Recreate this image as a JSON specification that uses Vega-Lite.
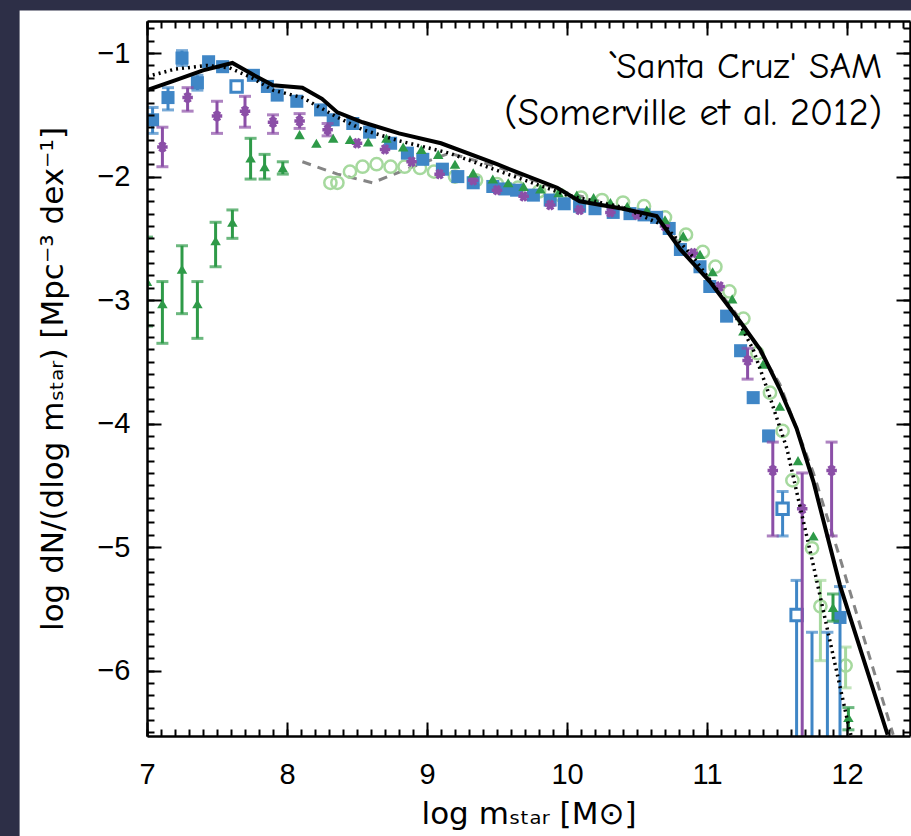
{
  "$schema": "https://vega.github.io/schema/vega-lite/v6.json",
  "width": 763,
  "height": 715,
  "autosize": {"type": "none"},
  "padding": {"left": 147, "top": 21, "right": 1, "bottom": 100},
  "background": "#2d2f47",
  "config": {
    "view": {"stroke": null},
    "axis": {"grid": false, "labelFlush": false, "labelFont": "Liberation Sans", "titleFont": "DejaVu Sans", "labelColor": "black", "titleColor": "black", "domainColor": "black", "tickColor": "black", "titleFontWeight": "normal", "labelOverlap": false}
  },
  "resolve": {"axis": {"x": "independent", "y": "independent"}},
  "datasets": {
    "black": [{"x":7.0,"y":-1.30},{"x":7.2,"y":-1.22},{"x":7.4,"y":-1.14},{"x":7.61,"y":-1.08},{"x":7.75,"y":-1.17},{"x":7.9,"y":-1.26},{"x":8.11,"y":-1.28},{"x":8.25,"y":-1.37},{"x":8.36,"y":-1.48},{"x":8.54,"y":-1.56},{"x":8.8,"y":-1.65},{"x":9.1,"y":-1.73},{"x":9.5,"y":-1.90},{"x":9.93,"y":-2.09},{"x":10.09,"y":-2.20},{"x":10.4,"y":-2.26},{"x":10.64,"y":-2.32},{"x":10.81,"y":-2.59},{"x":11.02,"y":-2.85},{"x":11.24,"y":-3.18},{"x":11.38,"y":-3.40},{"x":11.52,"y":-3.72},{"x":11.64,"y":-4.04},{"x":11.76,"y":-4.47},{"x":11.95,"y":-5.31},{"x":12.29,"y":-6.52}],
    "dotted": [{"x":7.0,"y":-1.19},{"x":7.2,"y":-1.13},{"x":7.43,"y":-1.10},{"x":7.59,"y":-1.12},{"x":7.75,"y":-1.2},{"x":7.9,"y":-1.30},{"x":8.11,"y":-1.36},{"x":8.36,"y":-1.52},{"x":8.54,"y":-1.62},{"x":8.8,"y":-1.71},{"x":9.16,"y":-1.81},{"x":9.5,"y":-1.95},{"x":10.0,"y":-2.15},{"x":10.4,"y":-2.25},{"x":10.7,"y":-2.4},{"x":10.9,"y":-2.65},{"x":11.19,"y":-3.10},{"x":11.33,"y":-3.40},{"x":11.43,"y":-3.72},{"x":11.57,"y":-4.2},{"x":11.76,"y":-5.15},{"x":12.01,"y":-6.44},{"x":12.03,"y":-6.53}],
    "dashed": [{"x":8.11,"y":-1.88},{"x":8.36,"y":-1.98},{"x":8.61,"y":-2.05},{"x":8.9,"y":-1.92},{"x":9.16,"y":-1.81},{"x":9.5,"y":-1.92},{"x":10.0,"y":-2.13},{"x":10.4,"y":-2.25},{"x":10.64,"y":-2.3},{"x":10.81,"y":-2.56},{"x":11.02,"y":-2.83},{"x":11.24,"y":-3.16},{"x":11.52,"y":-3.68},{"x":11.76,"y":-4.40},{"x":11.95,"y":-5.09},{"x":12.14,"y":-5.81},{"x":12.33,"y":-6.52}],
    "blue": [
      {"x":7.04,"y":-1.54,"lo":-1.65,"hi":-1.44,"kind":"filled"},{"x":7.15,"y":-1.36,"lo":-1.46,"hi":-1.28,"kind":"filled"},{"x":7.25,"y":-1.04,"lo":-1.10,"hi":-0.98,"kind":"filled"},{"x":7.36,"y":-1.24,"lo":-1.30,"hi":-1.18,"kind":"filled"},{"x":7.44,"y":-1.07,"kind":"filled"},{"x":7.54,"y":-1.11,"kind":"filled"},{"x":7.64,"y":-1.27,"kind":"open"},{"x":7.76,"y":-1.18,"kind":"filled"},{"x":7.86,"y":-1.27,"kind":"filled"},{"x":7.93,"y":-1.34,"kind":"filled"},{"x":8.07,"y":-1.39,"kind":"filled"},{"x":8.24,"y":-1.46,"kind":"filled"},{"x":8.33,"y":-1.54,"kind":"filled"},{"x":8.47,"y":-1.57,"kind":"filled"},{"x":8.59,"y":-1.64,"kind":"filled"},{"x":8.74,"y":-1.73,"kind":"filled"},{"x":8.86,"y":-1.81,"kind":"filled"},{"x":8.97,"y":-1.86,"kind":"filled"},{"x":9.11,"y":-1.94,"kind":"filled"},{"x":9.22,"y":-2.0,"kind":"filled"},{"x":9.33,"y":-2.05,"kind":"filled"},{"x":9.47,"y":-2.08,"kind":"filled"},{"x":9.56,"y":-2.10,"kind":"filled"},{"x":9.64,"y":-2.11,"kind":"filled"},{"x":9.76,"y":-2.15,"kind":"filled"},{"x":9.88,"y":-2.19,"kind":"filled"},{"x":9.98,"y":-2.22,"kind":"filled"},{"x":10.09,"y":-2.24,"kind":"filled"},{"x":10.2,"y":-2.26,"kind":"filled"},{"x":10.33,"y":-2.29,"kind":"filled"},{"x":10.45,"y":-2.30,"kind":"filled"},{"x":10.55,"y":-2.31,"kind":"filled"},{"x":10.64,"y":-2.33,"kind":"filled"},{"x":10.73,"y":-2.42,"kind":"filled"},{"x":10.81,"y":-2.59,"kind":"filled"},{"x":10.95,"y":-2.73,"kind":"filled"},{"x":11.02,"y":-2.89,"kind":"filled"},{"x":11.14,"y":-3.13,"kind":"filled"},{"x":11.24,"y":-3.41,"kind":"filled"},{"x":11.33,"y":-3.79,"kind":"filled"},{"x":11.44,"y":-4.10,"kind":"filled"},{"x":11.54,"y":-4.69,"lo":-4.91,"hi":-4.55,"kind":"open"},{"x":11.64,"y":-5.55,"lo":-6.8,"hi":-5.27,"kind":"open"},{"x":11.75,"y":-6.9,"lo":-6.9,"hi":-5.69,"kind":"open"},{"x":11.86,"y":-6.9,"lo":-6.9,"hi":-5.69,"kind":"open"},{"x":11.95,"y":-5.57,"lo":-6.8,"hi":-5.32,"kind":"filled"}
    ],
    "purple": [
      {"x":7.11,"y":-1.76,"lo":-1.92,"hi":-1.60},{"x":7.29,"y":-1.36,"lo":-1.47,"hi":-1.28},{"x":7.50,"y":-1.51,"lo":-1.65,"hi":-1.39},{"x":7.70,"y":-1.47,"lo":-1.60,"hi":-1.35},{"x":7.90,"y":-1.56,"lo":-1.65,"hi":-1.50},{"x":8.09,"y":-1.55,"lo":-1.61,"hi":-1.49},{"x":8.29,"y":-1.62,"lo":-1.67,"hi":-1.57},{"x":8.50,"y":-1.73},{"x":8.70,"y":-1.78},{"x":8.89,"y":-1.88},{"x":9.09,"y":-1.98},{"x":9.33,"y":-2.03},{"x":9.5,"y":-2.11},{"x":9.69,"y":-2.16},{"x":9.88,"y":-2.23},{"x":10.09,"y":-2.27},{"x":10.31,"y":-2.29},{"x":10.5,"y":-2.31},{"x":10.7,"y":-2.40},{"x":10.9,"y":-2.62},{"x":11.09,"y":-2.89},{"x":11.29,"y":-3.49,"lo":-3.64,"hi":-3.39},{"x":11.47,"y":-4.38,"lo":-4.91,"hi":-4.15},{"x":11.68,"y":-4.69,"lo":-6.8,"hi":-4.40},{"x":11.89,"y":-4.38,"lo":-4.91,"hi":-4.15}
    ],
    "dgreen": [
      {"x":7.0,"y":-2.85,"lo":-3.21,"hi":-2.49},{"x":7.11,"y":-3.03,"lo":-3.35,"hi":-2.85},{"x":7.25,"y":-2.75,"lo":-3.11,"hi":-2.56},{"x":7.36,"y":-3.03,"lo":-3.31,"hi":-2.85},{"x":7.49,"y":-2.52,"lo":-2.73,"hi":-2.37},{"x":7.61,"y":-2.37,"lo":-2.50,"hi":-2.27},{"x":7.74,"y":-1.85,"lo":-2.02,"hi":-1.69},{"x":7.84,"y":-1.92,"lo":-2.02,"hi":-1.82},{"x":7.97,"y":-1.93,"lo":-1.98,"hi":-1.88},{"x":8.09,"y":-1.66},{"x":8.21,"y":-1.73},{"x":8.33,"y":-1.69},{"x":8.45,"y":-1.70},{"x":8.58,"y":-1.72},{"x":8.71,"y":-1.69},{"x":8.83,"y":-1.76},{"x":8.96,"y":-1.78},{"x":9.08,"y":-1.82},{"x":9.2,"y":-1.9},{"x":9.33,"y":-1.97},{"x":9.47,"y":-2.02},{"x":9.58,"y":-2.05},{"x":9.69,"y":-2.08},{"x":9.81,"y":-2.10},{"x":9.94,"y":-2.13},{"x":10.07,"y":-2.15},{"x":10.19,"y":-2.17},{"x":10.31,"y":-2.21},{"x":10.43,"y":-2.24},{"x":10.57,"y":-2.27},{"x":10.7,"y":-2.35},{"x":10.83,"y":-2.48},{"x":10.95,"y":-2.63},{"x":11.04,"y":-2.77},{"x":11.18,"y":-2.99},{"x":11.26,"y":-3.25},{"x":11.4,"y":-3.52},{"x":11.52,"y":-3.86},{"x":11.65,"y":-4.30},{"x":11.76,"y":-4.91},{"x":11.90,"y":-5.49,"lo":-5.60,"hi":-5.38},{"x":12.01,"y":-6.38,"lo":-6.48,"hi":-6.30}
    ],
    "lgreen": [
      {"x":8.31,"y":-2.05},{"x":8.36,"y":-2.05},{"x":8.45,"y":-1.96},{"x":8.54,"y":-1.92},{"x":8.64,"y":-1.90},{"x":8.74,"y":-1.92},{"x":8.84,"y":-1.92},{"x":8.95,"y":-1.93},{"x":9.05,"y":-1.96},{"x":9.2,"y":-2.0},{"x":9.35,"y":-2.03},{"x":9.5,"y":-2.06},{"x":9.65,"y":-2.09},{"x":9.8,"y":-2.12},{"x":9.95,"y":-2.15},{"x":10.1,"y":-2.17},{"x":10.25,"y":-2.19},{"x":10.4,"y":-2.21},{"x":10.55,"y":-2.24},{"x":10.7,"y":-2.33},{"x":10.85,"y":-2.47},{"x":10.97,"y":-2.61},{"x":11.06,"y":-2.73},{"x":11.16,"y":-2.93},{"x":11.26,"y":-3.15},{"x":11.36,"y":-3.43},{"x":11.45,"y":-3.75},{"x":11.54,"y":-4.06},{"x":11.61,"y":-4.46},{"x":11.75,"y":-5.01},{"x":11.81,"y":-5.48,"lo":-5.92,"hi":-5.27},{"x":11.99,"y":-5.96,"lo":-6.14,"hi":-5.81}
    ]
  },
  "layer": [
    {
      "data": {"values": [{}]},
      "mark": {"type": "rect", "color": "white"},
      "encoding": {
        "x": {"datum": 6.09, "type": "quantitative", "scale": {"domain": [7, 12.45], "nice": false, "zero": false}, "axis": {"orient": "top", "zindex": 2, "labels": false, "ticks": false, "domain": true, "domainWidth": 2.5, "title": null}},
        "x2": {"datum": 12.8},
        "y": {"datum": -0.655, "type": "quantitative", "scale": {"domain": [-6.53, -0.74], "nice": false, "zero": false}, "axis": {"orient": "right", "zindex": 2, "labels": false, "ticks": false, "domain": true, "domainWidth": 2.5, "title": null}},
        "y2": {"datum": -7.6}
      }
    },
    {
      "data": {"name": "dashed"},
      "mark": {"type": "line", "color": "#858585", "strokeWidth": 3, "strokeDash": [9, 7], "clip": true},
      "encoding": {
        "x": {"field": "x", "type": "quantitative", "scale": {"domain": [7, 12.45], "nice": false, "zero": false}, "axis": {"orient": "bottom", "zindex": 2, "labels": false, "domain": false, "title": null, "tickCount": 55, "tickSize": 7, "offset": -7, "tickWidth": 2}},
        "y": {"field": "y", "type": "quantitative", "scale": {"domain": [-6.53, -0.74], "nice": false, "zero": false}, "axis": {"orient": "left", "zindex": 2, "labels": false, "domain": false, "title": null, "tickCount": 58, "tickSize": 7, "offset": -7, "tickWidth": 2}}
      }
    },
    {
      "data": {"name": "lgreen"},
      "transform": [{"filter": "datum.hi != null"}],
      "mark": {"type": "rule", "color": "#a6d99e", "strokeWidth": 3, "clip": true},
      "encoding": {
        "x": {"field": "x", "type": "quantitative", "scale": {"domain": [7, 12.45], "nice": false, "zero": false}, "axis": null},
        "y": {"field": "lo", "type": "quantitative", "scale": {"domain": [-6.53, -0.74], "nice": false, "zero": false}, "axis": null},
        "y2": {"field": "hi"}
      }
    },
    {
      "data": {"name": "lgreen"},
      "transform": [{"filter": "datum.hi != null"}],
      "mark": {"type": "tick", "orient": "horizontal", "color": "#a6d99e", "size": 12, "thickness": 3, "clip": true},
      "encoding": {
        "x": {"field": "x", "type": "quantitative", "scale": {"domain": [7, 12.45], "nice": false, "zero": false}, "axis": null},
        "y": {"field": "lo", "type": "quantitative", "scale": {"domain": [-6.53, -0.74], "nice": false, "zero": false}, "axis": null}
      }
    },
    {
      "data": {"name": "lgreen"},
      "transform": [{"filter": "datum.hi != null"}],
      "mark": {"type": "tick", "orient": "horizontal", "color": "#a6d99e", "size": 12, "thickness": 3, "clip": true},
      "encoding": {
        "x": {"field": "x", "type": "quantitative", "scale": {"domain": [7, 12.45], "nice": false, "zero": false}, "axis": null},
        "y": {"field": "hi", "type": "quantitative", "scale": {"domain": [-6.53, -0.74], "nice": false, "zero": false}, "axis": null}
      }
    },
    {
      "data": {"name": "lgreen"},
      "mark": {"type": "point", "shape": "circle", "filled": false, "color": "#a6d99e", "strokeWidth": 2.5, "size": 150, "opacity": 1, "clip": true},
      "encoding": {
        "x": {"field": "x", "type": "quantitative", "scale": {"domain": [7, 12.45], "nice": false, "zero": false}, "axis": null},
        "y": {"field": "y", "type": "quantitative", "scale": {"domain": [-6.53, -0.74], "nice": false, "zero": false}, "axis": null}
      }
    },
    {
      "data": {"name": "blue"},
      "transform": [{"filter": "datum.hi != null"}],
      "mark": {"type": "rule", "color": "#3f86c6", "strokeWidth": 3, "clip": true},
      "encoding": {
        "x": {"field": "x", "type": "quantitative", "scale": {"domain": [7, 12.45], "nice": false, "zero": false}, "axis": null},
        "y": {"field": "lo", "type": "quantitative", "scale": {"domain": [-6.53, -0.74], "nice": false, "zero": false}, "axis": null},
        "y2": {"field": "hi"}
      }
    },
    {
      "data": {"name": "blue"},
      "transform": [{"filter": "datum.hi != null"}],
      "mark": {"type": "tick", "orient": "horizontal", "color": "#3f86c6", "size": 12, "thickness": 3, "clip": true},
      "encoding": {
        "x": {"field": "x", "type": "quantitative", "scale": {"domain": [7, 12.45], "nice": false, "zero": false}, "axis": null},
        "y": {"field": "lo", "type": "quantitative", "scale": {"domain": [-6.53, -0.74], "nice": false, "zero": false}, "axis": null}
      }
    },
    {
      "data": {"name": "blue"},
      "transform": [{"filter": "datum.hi != null"}],
      "mark": {"type": "tick", "orient": "horizontal", "color": "#3f86c6", "size": 12, "thickness": 3, "clip": true},
      "encoding": {
        "x": {"field": "x", "type": "quantitative", "scale": {"domain": [7, 12.45], "nice": false, "zero": false}, "axis": null},
        "y": {"field": "hi", "type": "quantitative", "scale": {"domain": [-6.53, -0.74], "nice": false, "zero": false}, "axis": null}
      }
    },
    {
      "data": {"name": "blue"},
      "transform": [{"filter": "datum.kind == 'filled'"}],
      "mark": {"type": "point", "shape": "square", "filled": true, "color": "#3f86c6", "size": 170, "opacity": 1, "clip": true},
      "encoding": {
        "x": {"field": "x", "type": "quantitative", "scale": {"domain": [7, 12.45], "nice": false, "zero": false}, "axis": {"orient": "top", "zindex": 2, "labels": false, "domain": false, "title": null, "values": [7, 8, 9, 10, 11, 12], "tickSize": 14, "offset": -14, "tickWidth": 2}},
        "y": {"field": "y", "type": "quantitative", "scale": {"domain": [-6.53, -0.74], "nice": false, "zero": false}, "axis": {"orient": "right", "zindex": 2, "labels": false, "domain": false, "title": null, "values": [-6, -5, -4, -3, -2, -1], "tickSize": 14, "offset": -14, "tickWidth": 2}}
      }
    },
    {
      "data": {"name": "blue"},
      "transform": [{"filter": "datum.kind == 'open'"}],
      "mark": {"type": "point", "shape": "square", "filled": false, "fill": "white", "color": "#3f86c6", "strokeWidth": 3, "size": 130, "opacity": 1, "clip": true},
      "encoding": {
        "x": {"field": "x", "type": "quantitative", "scale": {"domain": [7, 12.45], "nice": false, "zero": false}, "axis": null},
        "y": {"field": "y", "type": "quantitative", "scale": {"domain": [-6.53, -0.74], "nice": false, "zero": false}, "axis": null}
      }
    },
    {
      "data": {"name": "purple"},
      "transform": [{"filter": "datum.hi != null"}],
      "mark": {"type": "rule", "color": "#8b4fa7", "strokeWidth": 3, "clip": true},
      "encoding": {
        "x": {"field": "x", "type": "quantitative", "scale": {"domain": [7, 12.45], "nice": false, "zero": false}, "axis": null},
        "y": {"field": "lo", "type": "quantitative", "scale": {"domain": [-6.53, -0.74], "nice": false, "zero": false}, "axis": null},
        "y2": {"field": "hi"}
      }
    },
    {
      "data": {"name": "purple"},
      "transform": [{"filter": "datum.hi != null"}],
      "mark": {"type": "tick", "orient": "horizontal", "color": "#8b4fa7", "size": 12, "thickness": 3, "clip": true},
      "encoding": {
        "x": {"field": "x", "type": "quantitative", "scale": {"domain": [7, 12.45], "nice": false, "zero": false}, "axis": null},
        "y": {"field": "lo", "type": "quantitative", "scale": {"domain": [-6.53, -0.74], "nice": false, "zero": false}, "axis": null}
      }
    },
    {
      "data": {"name": "purple"},
      "transform": [{"filter": "datum.hi != null"}],
      "mark": {"type": "tick", "orient": "horizontal", "color": "#8b4fa7", "size": 12, "thickness": 3, "clip": true},
      "encoding": {
        "x": {"field": "x", "type": "quantitative", "scale": {"domain": [7, 12.45], "nice": false, "zero": false}, "axis": null},
        "y": {"field": "hi", "type": "quantitative", "scale": {"domain": [-6.53, -0.74], "nice": false, "zero": false}, "axis": null}
      }
    },
    {
      "data": {"name": "purple"},
      "mark": {"type": "point", "shape": "M-1,0L1,0M-0.5,-0.87L0.5,0.87M-0.5,0.87L0.5,-0.87", "filled": false, "color": "#8b4fa7", "strokeWidth": 3.5, "size": 110, "opacity": 1, "clip": true},
      "encoding": {
        "x": {"field": "x", "type": "quantitative", "scale": {"domain": [7, 12.45], "nice": false, "zero": false}, "axis": {"orient": "top", "zindex": 2, "labels": false, "domain": false, "title": null, "tickCount": 55, "tickSize": 7, "offset": -7, "tickWidth": 2}},
        "y": {"field": "y", "type": "quantitative", "scale": {"domain": [-6.53, -0.74], "nice": false, "zero": false}, "axis": {"orient": "right", "zindex": 2, "labels": false, "domain": false, "title": null, "tickCount": 58, "tickSize": 7, "offset": -7, "tickWidth": 2}}
      }
    },
    {
      "data": {"name": "dgreen"},
      "transform": [{"filter": "datum.hi != null"}],
      "mark": {"type": "rule", "color": "#2e9a48", "strokeWidth": 3, "clip": true},
      "encoding": {
        "x": {"field": "x", "type": "quantitative", "scale": {"domain": [7, 12.45], "nice": false, "zero": false}, "axis": null},
        "y": {"field": "lo", "type": "quantitative", "scale": {"domain": [-6.53, -0.74], "nice": false, "zero": false}, "axis": null},
        "y2": {"field": "hi"}
      }
    },
    {
      "data": {"name": "dgreen"},
      "transform": [{"filter": "datum.hi != null"}],
      "mark": {"type": "tick", "orient": "horizontal", "color": "#2e9a48", "size": 12, "thickness": 3, "clip": true},
      "encoding": {
        "x": {"field": "x", "type": "quantitative", "scale": {"domain": [7, 12.45], "nice": false, "zero": false}, "axis": null},
        "y": {"field": "lo", "type": "quantitative", "scale": {"domain": [-6.53, -0.74], "nice": false, "zero": false}, "axis": null}
      }
    },
    {
      "data": {"name": "dgreen"},
      "transform": [{"filter": "datum.hi != null"}],
      "mark": {"type": "tick", "orient": "horizontal", "color": "#2e9a48", "size": 12, "thickness": 3, "clip": true},
      "encoding": {
        "x": {"field": "x", "type": "quantitative", "scale": {"domain": [7, 12.45], "nice": false, "zero": false}, "axis": null},
        "y": {"field": "hi", "type": "quantitative", "scale": {"domain": [-6.53, -0.74], "nice": false, "zero": false}, "axis": null}
      }
    },
    {
      "data": {"name": "dgreen"},
      "mark": {"type": "point", "shape": "triangle-up", "filled": true, "color": "#2e9a48", "size": 110, "opacity": 1, "clip": true},
      "encoding": {
        "x": {"field": "x", "type": "quantitative", "scale": {"domain": [7, 12.45], "nice": false, "zero": false}, "axis": null},
        "y": {"field": "y", "type": "quantitative", "scale": {"domain": [-6.53, -0.74], "nice": false, "zero": false}, "axis": null}
      }
    },
    {
      "data": {"name": "black"},
      "mark": {"type": "line", "color": "black", "strokeWidth": 4, "clip": true},
      "encoding": {
        "x": {"field": "x", "type": "quantitative", "scale": {"domain": [7, 12.45], "nice": false, "zero": false}, "axis": {"orient": "bottom", "zindex": 2, "values": [7, 8, 9, 10, 11, 12], "ticks": false, "tickSize": 0, "domain": true, "domainWidth": 2.5, "labelFontSize": 29, "labelPadding": 24, "title": "log  mₛₜₐᵣ  [M⊙]", "titleFontSize": 31, "titleX": 381.5, "titleY": 87, "titleAlign": "center", "titleBaseline": "alphabetic"}},
        "y": {"field": "y", "type": "quantitative", "scale": {"domain": [-6.53, -0.74], "nice": false, "zero": false}, "axis": {"orient": "left", "zindex": 2, "values": [-6, -5, -4, -3, -2, -1], "ticks": false, "tickSize": 0, "domain": true, "domainWidth": 2.5, "labelFontSize": 29, "labelPadding": 17, "title": "log dN/(dlog mₛₜₐᵣ)  [Mpc⁻³ dex⁻¹]", "titleFontSize": 31, "titleX": -85, "titleY": 357.5, "titleAngle": 270, "titleAlign": "center", "titleBaseline": "alphabetic"}}
      }
    },
    {
      "data": {"name": "dotted"},
      "mark": {"type": "line", "color": "black", "strokeWidth": 3.5, "strokeDash": [2, 4], "clip": true},
      "encoding": {
        "x": {"field": "x", "type": "quantitative", "scale": {"domain": [7, 12.45], "nice": false, "zero": false}, "axis": {"orient": "bottom", "zindex": 2, "labels": false, "domain": false, "title": null, "values": [7, 8, 9, 10, 11, 12], "tickSize": 14, "offset": -14, "tickWidth": 2}},
        "y": {"field": "y", "type": "quantitative", "scale": {"domain": [-6.53, -0.74], "nice": false, "zero": false}, "axis": {"orient": "left", "zindex": 2, "labels": false, "domain": false, "title": null, "values": [-6, -5, -4, -3, -2, -1], "tickSize": 14, "offset": -14, "tickWidth": 2}}
      }
    },
    {
      "data": {"values": [{}]},
      "mark": {"type": "text", "align": "right", "baseline": "alphabetic", "font": "Comic Sans MS, Comic Neue, Lato", "fontSize": 37, "color": "black"},
      "encoding": {
        "x": {"datum": 12.25, "type": "quantitative", "scale": {"domain": [7, 12.45], "nice": false, "zero": false}, "axis": null},
        "y": {"datum": -1.20, "type": "quantitative", "scale": {"domain": [-6.53, -0.74], "nice": false, "zero": false}, "axis": null},
        "text": {"value": "`Santa Cruz' SAM"}
      }
    },
    {
      "data": {"values": [{}]},
      "mark": {"type": "text", "align": "right", "baseline": "alphabetic", "font": "Comic Sans MS, Comic Neue, Lato", "fontSize": 38.5, "color": "black"},
      "encoding": {
        "x": {"datum": 12.25, "type": "quantitative", "scale": {"domain": [7, 12.45], "nice": false, "zero": false}, "axis": null},
        "y": {"datum": -1.58, "type": "quantitative", "scale": {"domain": [-6.53, -0.74], "nice": false, "zero": false}, "axis": null},
        "text": {"value": "(Somerville et al. 2012)"}
      }
    }
  ]
}
